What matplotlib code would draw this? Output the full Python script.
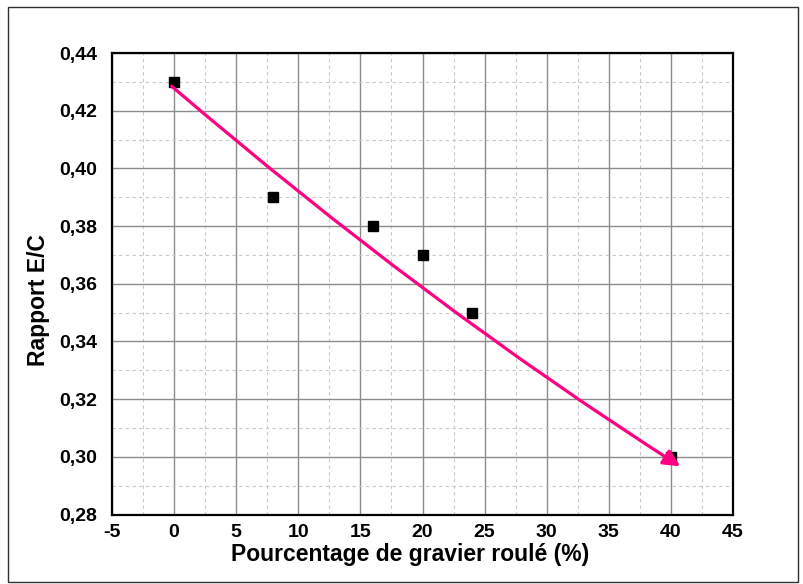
import numpy as np
import matplotlib.pyplot as plt
from matplotlib.patches import Rectangle, FancyArrowPatch
from matplotlib.path import Path

plt.rcParams['font.family'] = ['Liberation Sans', 'DejaVu Sans']

# donnees mesurees
gravier = [0, 8, 16, 20, 24, 40]
rapport_ec = [0.43, 0.39, 0.38, 0.37, 0.35, 0.30]

# courbe de tendance : debut, milieu, fin
tend_x = [-0.2, 20.3, 40.75]
tend_y = [0.4285, 0.3577, 0.2967]

xticks = [-5, 0, 5, 10, 15, 20, 25, 30, 35, 40, 45]
yticks = [0.28, 0.30, 0.32, 0.34, 0.36, 0.38, 0.40, 0.42, 0.44]
ytick_labels = ['0,28', '0,30', '0,32', '0,34', '0,36', '0,38', '0,40', '0,42', '0,44']

fig = plt.figure(figsize=(8.04, 5.84), dpi=100)
ax = fig.add_axes([0.1393, 0.119, 0.7724, 0.7902])

# cadre exterieur
fig.patches.append(Rectangle((8 / 804, 2 / 584), 790 / 804, 575 / 584, transform=fig.transFigure,
                             fill=False, edgecolor='#303030', linewidth=1.0))

ax.set_xlim(-5, 45)
ax.set_ylim(0.28, 0.44)
ax.set_xticks(xticks)
ax.set_xticklabels([str(t) for t in xticks])
ax.set_yticks(yticks)
ax.set_yticklabels(ytick_labels)
ax.set_xticks(np.arange(-2.5, 45, 5), minor=True)
ax.set_yticks(np.arange(0.29, 0.44, 0.02), minor=True)

ax.grid(which='major', color='#8c8c8c', linestyle='-', linewidth=1.0)
ax.grid(which='minor', color='#c8c8c8', linestyle=(0, (3, 3)), linewidth=0.8)
ax.set_axisbelow(True)

ax.tick_params(which='both', length=0)
ax.tick_params(axis='y', pad=10.5, labelsize=14)
ax.tick_params(axis='x', pad=7, labelsize=14)
for lab in ax.get_xticklabels() + ax.get_yticklabels():
    lab.set_fontweight('bold')

for s in ax.spines.values():
    s.set_linewidth(1.6)
    s.set_color('black')

# courbe de Bezier quadratique passant par le point milieu
p0 = (tend_x[0], tend_y[0])
p2 = (tend_x[2], tend_y[2])
ctrl = (2 * tend_x[1] - 0.5 * (tend_x[0] + tend_x[2]), 2 * tend_y[1] - 0.5 * (tend_y[0] + tend_y[2]))
chemin = Path([p0, ctrl, p2], [Path.MOVETO, Path.CURVE3, Path.CURVE3])
fleche = FancyArrowPatch(path=chemin, arrowstyle='-|>,head_length=10,head_width=5',
                         color='#FF0080', linewidth=2.3, shrinkA=0, shrinkB=0, zorder=3)
ax.add_patch(fleche)

ax.plot(gravier, rapport_ec, linestyle='none', marker='s', markersize=6.5, color='black', zorder=2)

ax.set_xlabel('Pourcentage de gravier roulé (%)', fontsize=16.5, fontweight='bold')
ax.set_ylabel('Rapport E/C', fontsize=16.5, fontweight='bold')
ax.xaxis.set_label_coords(0.48, -0.062)
ax.yaxis.set_label_coords(-0.10, 0.465)

fig.savefig('out.png', dpi=100)
